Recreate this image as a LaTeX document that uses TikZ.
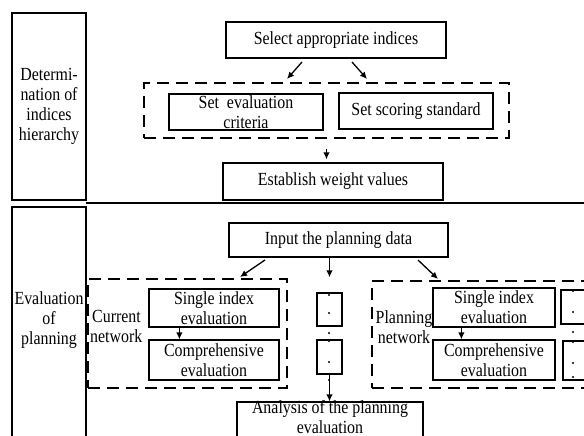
\documentclass[tikz,border=0pt]{standalone}
\usepackage{fontspec}
\setmainfont{Liberation Serif}[FakeStretch=0.86]
\usetikzlibrary{arrows.meta}
\begin{document}
\begin{tikzpicture}[x=1pt,y=-1pt,
  box/.style={draw,line width=1.2pt,inner sep=0pt,align=center,font=\fontsize{18.5}{20}\selectfont},
  dbox/.style={draw,line width=1.5pt,dash pattern=on 12pt off 7pt,inner sep=0pt},
  txt/.style={inner sep=0pt,align=center,font=\fontsize{18.5}{20}\selectfont},
  arr/.style={line width=1.3pt,-{Latex[length=7pt,width=6.5pt]}},
  dotm/.style={circle,fill,inner sep=0pt,minimum size=2.4pt}]
\fill[white] (0,0) rectangle (584,436);
\useasboundingbox (0,0) rectangle (584,436);
\clip (0,0) rectangle (584,436);
% left boxes
\node[box,minimum width=74pt,minimum height=187pt] (lb1) at (49,106.5) {Determi-\\nation of\\indices\\hierarchy};
\node[box,minimum width=74pt,minimum height=234pt] (lb2) at (49,324) {};
\node[txt] (lb2t) at (49,320) {Evaluation\\of\\planning};
\draw[line width=1.5pt] (86,203) -- (590,203);
% top section
\node[box,minimum width=220pt,minimum height=36pt] (sel) at (336,40) {Select appropriate indices};
\node[dbox,minimum width=365pt,minimum height=55pt] (dash1) at (326.5,110.5) {};
\node[box,minimum width=154pt,minimum height=36pt] (crit) at (246,112) {Set\ \ evaluation\\criteria};
\node[box,minimum width=154pt,minimum height=36pt] (score) at (416,111) {Set scoring standard};
\node[box,minimum width=220pt,minimum height=37pt] (est) at (333,181.5) {Establish weight values};
\coordinate (s1) at (302,62);
\coordinate (e1) at (287,79);
\coordinate (s2) at (352,62);
\coordinate (e2) at (367,79);
\draw[arr] (s1) -- (e1);
\draw[arr] (s2) -- (e2);
\draw[arr,shorten <=10pt,shorten >=3pt] (dash1.south) -- (dash1.south |- est.north);
% bottom section
\node[box,minimum width=219pt,minimum height=34pt] (inp) at (338.5,240) {Input the planning data};
\node[dbox,minimum width=199pt,minimum height=109pt] (cur) at (187.5,333.5) {};
\node[txt,align=left,anchor=west] (curt) at (90,326) {\hspace{2pt}Current\\network};
\node[box,minimum width=130pt,minimum height=38pt] (si1) at (214,308) {Single index\\evaluation};
\node[box,minimum width=130pt,minimum height=40pt] (cm1) at (214,360) {Comprehensive\\evaluation};
\draw[arr] ([xshift=31pt]si1.south west) -- ([xshift=31pt]cm1.north west);
% middle column
\node[box,minimum width=25pt,minimum height=33pt] (m1) at (329.5,309.5) {};
\node[box,minimum width=25pt,minimum height=34pt] (m2) at (329.5,357) {};
\foreach \yy in {295,313,333,341,362,380} \node[dotm] at (329,\yy) {};
\draw[arr,shorten >=15pt] (inp.south -| m1.north) -- (m1.north);
\node[box,minimum width=186pt,minimum height=48pt] (ana) at (330,426) {};
\node[txt] (anat) at (330,417) {Analysis of the planning\\evaluation};
\draw[arr] (m2.south) -- (m2.south |- ana.north);
% planning network
\node[dbox,minimum width=228pt,minimum height=107pt] (plan) at (486,334.5) {};
\node[txt] (plant) at (404,327) {Planning\\network};
\node[box,minimum width=122pt,minimum height=39pt] (si2) at (494,307.5) {Single index\\evaluation};
\node[box,minimum width=122pt,minimum height=40pt] (cm2) at (494,360) {Comprehensive\\evaluation};
\draw[arr] ([xshift=29pt]si2.south west) -- ([xshift=29pt]cm2.north west);
\node[box,minimum width=39pt,minimum height=34pt] (r1) at (580.5,307) {};
\node[box,minimum width=39pt,minimum height=39pt] (r2) at (582.5,360.5) {};
\foreach \yy in {291,312,332,342,363,377} \node[dotm] at (573,\yy) {};
\coordinate (s3) at (265,260);
\coordinate (e3) at (240,277);
\coordinate (s4) at (418,260);
\coordinate (e4) at (438,279);
\draw[arr] (s3) -- (e3);
\draw[arr] (s4) -- (e4);
\end{tikzpicture}
\end{document}
